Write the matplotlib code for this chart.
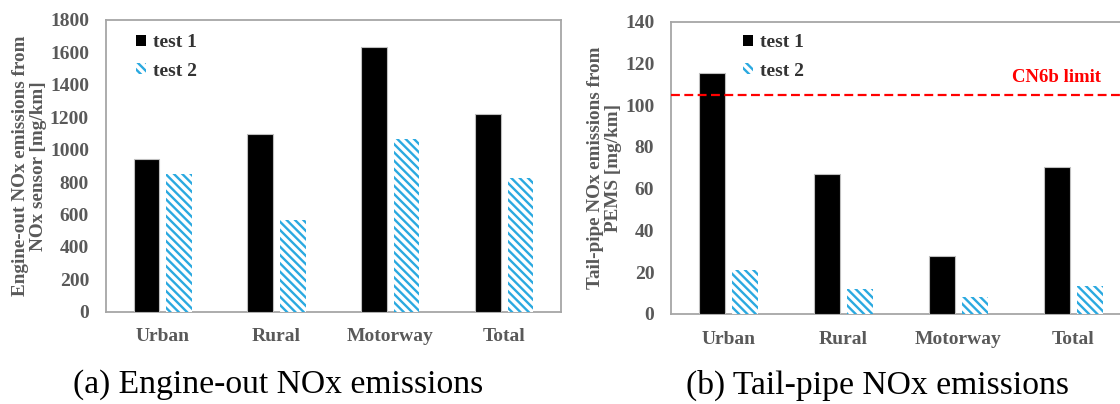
import matplotlib
matplotlib.use("Agg")
import matplotlib.pyplot as plt
import numpy as np
from matplotlib.patches import Patch

plt.rcParams['font.family'] = ['Liberation Serif', 'DejaVu Serif']
plt.rcParams['hatch.linewidth'] = 1.7

categories = ["Urban", "Rural", "Motorway", "Total"]
engine_test1 = [940, 1095, 1635, 1220]
engine_test2 = [848, 563, 1063, 822]
tail_test1 = [115.4, 67.0, 27.8, 70.6]
tail_test2 = [21.1, 11.8, 8.3, 13.6]
cn6b_limit = 105
series_labels = ["test 1", "test 2"]
captions = ["(a) Engine-out NOx emissions", "(b) Tail-pipe NOx emissions"]
ylabels = ["Engine-out NOx emissions from\nNOx sensor [mg/km]",
           "Tail-pipe NOx emissions from\nPEMS [mg/km]"]

BLUE = "#2aa9e0"
GRAY_TXT = "#595959"
SPINE = "#a6a6a6"
HATCH = "\\\\\\\\"

fig = plt.figure(figsize=(11.2, 4.04), dpi=100)
W, H = 1120, 404

def fx(px):
    return px / W

def fy(py):
    return 1 - py / H

axL = fig.add_axes([fx(105.7), fy(311.7), fx(561 - 105.7), (311.7 - 20) / H])
axR = fig.add_axes([fx(671), fy(314), fx(1130.7 - 671), (314 - 21.7) / H])

x = np.arange(len(categories))
bw = 0.225
off = 0.143

def draw(ax, v1, v2, ymax, ystep, ylabel, legend_px):
    ax.bar(x - off, v1, bw, color="black", edgecolor="#bfbfbf", linewidth=0.8, zorder=3)
    ax.bar(x + off, v2, bw, color="white", edgecolor=BLUE, hatch=HATCH, linewidth=0, zorder=3)
    ax.set_xlim(-0.5, len(categories) - 0.5)
    ax.set_ylim(0, ymax)
    ax.set_yticks(np.arange(0, ymax + 1, ystep))
    ax.set_xticks(x)
    ax.set_xticklabels(categories)
    ax.tick_params(length=0, labelsize=14, colors=GRAY_TXT)
    ax.tick_params(axis='y', pad=12)
    ax.tick_params(axis='x', pad=12)
    for lab in ax.get_xticklabels() + ax.get_yticklabels():
        lab.set_fontweight("bold")
    for sp in ax.spines.values():
        sp.set_color(SPINE)
        sp.set_linewidth(1.3)
    ax.set_ylabel(ylabel, fontsize=13.8, fontweight="bold", color=GRAY_TXT, labelpad=2, linespacing=1.1)
    handles = [Patch(facecolor="black", edgecolor="black", linewidth=0),
               Patch(facecolor="white", edgecolor=BLUE, hatch=HATCH, linewidth=0)]
    leg = ax.legend(handles, series_labels, loc="upper left",
                    bbox_to_anchor=(fx(legend_px[0]), fy(legend_px[1])),
                    bbox_transform=fig.transFigure, frameon=False,
                    handlelength=0.5, handleheight=0.5, handletextpad=0.35,
                    labelspacing=0.6, borderaxespad=0, borderpad=0,
                    prop={"family": "Liberation Serif", "weight": "bold", "size": 14})
    for t in leg.get_texts():
        t.set_color("#333333")

draw(axL, engine_test1, engine_test2, 1800, 200, ylabels[0], (136, 34))
draw(axR, tail_test1, tail_test2, 140, 20, ylabels[1], (743, 34))

axR.axhline(cn6b_limit, color="#ff0000", linestyle=(0, (4, 2)), linewidth=1.6, zorder=4)
axR.text(fx(1056), fy(78), "CN6b limit", transform=fig.transFigure, ha="center", va="center",
         color="#ff0000", fontsize=13.5, fontweight="bold")

fig.text(fx(278), fy(385), captions[0], ha="center", va="center", fontsize=24.2, color="black")
fig.text(fx(877), fy(385), captions[1], ha="center", va="center", fontsize=24.2, color="black")

fig.savefig("out.png", dpi=100)
